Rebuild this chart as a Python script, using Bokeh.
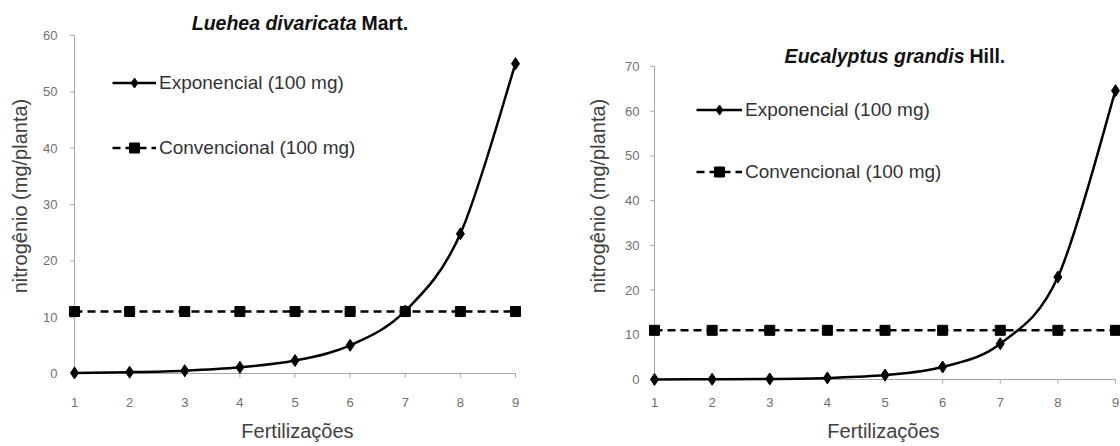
import numpy as np
from bokeh.plotting import figure
from bokeh.models import Label, Legend, LegendItem, FixedTicker, Range1d
from bokeh.layouts import row
from bokeh.embed import file_html
from bokeh.resources import INLINE

# ---------------- data ----------------
fertilizacoes = [1, 2, 3, 4, 5, 6, 7, 8, 9]

luehea_exponencial = [0.1, 0.23, 0.5, 1.1, 2.3, 5.0, 11.1, 24.8, 55.0]
luehea_convencional = [11.0, 11.0, 11.0, 11.0, 11.0, 11.0, 11.0, 11.0, 11.0]
luehea_yticks = [0, 10, 20, 30, 40, 50, 60]

eucalyptus_exponencial = [0.02, 0.05, 0.12, 0.35, 1.0, 2.8, 8.0, 22.9, 64.6]
eucalyptus_convencional = [11.0, 11.0, 11.0, 11.0, 11.0, 11.0, 11.0, 11.0, 11.0]
eucalyptus_yticks = [0, 10, 20, 30, 40, 50, 60, 70]

label_exp = "Exponencial (100 mg)"
label_conv = "Convencional (100 mg)"
x_title = "Fertilizações"
y_title = "nitrogênio (mg/planta)"

FONT = "Liberation Sans"
AXIS_GRAY = "#a6a6a6"
TICK_TEXT = "#6f6f6f"
TITLE_TEXT = "#404040"


def bezier_segments(xs, ys):
    """Excel-like smoothed line: cubic bezier control points from neighbours."""
    n = len(xs)
    out = dict(x0=[], y0=[], x1=[], y1=[], cx0=[], cy0=[], cx1=[], cy1=[])
    for i in range(n - 1):
        a = i - 1 if i > 0 else i
        d = i + 2 if i + 2 < n else i + 1
        out["x0"].append(xs[i]); out["y0"].append(ys[i])
        out["x1"].append(xs[i + 1]); out["y1"].append(ys[i + 1])
        out["cx0"].append(xs[i] + (xs[i + 1] - xs[a]) / 6.0)
        out["cy0"].append(ys[i] + (ys[i + 1] - ys[a]) / 6.0)
        out["cx1"].append(xs[i + 1] - (xs[d] - xs[i]) / 6.0)
        out["cy1"].append(ys[i + 1] - (ys[d] - ys[i]) / 6.0)
    return out


def make_panel(exp_vals, conv_vals, yticks, calib, frame, title_parts, opts):
    # calib: page-pixel positions of x=first, x=last, y=0, y=top
    (px_first, px_last, py_zero, py_top) = calib
    x_first, x_last = fertilizacoes[0], fertilizacoes[-1]
    y_first, y_last = yticks[0], yticks[-1]

    def dx(px):  # page px -> data x
        return x_first + (px - px_first) * (x_last - x_first) / (px_last - px_first)

    def dy(py):  # page px -> data y
        return y_first + (py_zero - py) * (y_last - y_first) / (py_zero - py_top)

    offset = opts["offset"]
    fl, fr, ft, fb = frame  # page px
    p = figure(
        width=560, height=446,
        x_range=Range1d(dx(fl), dx(fr)),
        y_range=Range1d(dy(fb), dy(ft)),
        output_backend="svg", toolbar_location=None,
        min_border_left=fl - offset, min_border_right=offset + 560 - fr,
        min_border_top=ft, min_border_bottom=446 - fb,
        outline_line_color=None, background_fill_color="white",
        border_fill_color="white",
    )
    p.grid.visible = False

    for ax in (p.xaxis[0], p.yaxis[0]):
        ax.axis_line_color = None
        ax.major_tick_line_color = None
        ax.minor_tick_line_color = None
        ax.major_tick_out = 0
        ax.major_tick_in = 0
        ax.minor_tick_out = 0
        ax.minor_tick_in = 0
        ax.major_label_text_font = FONT
        ax.major_label_text_font_size = "13px"
        ax.major_label_text_color = TICK_TEXT
        ax.axis_label_text_font = FONT
        ax.axis_label_text_font_style = "normal"
        ax.axis_label_text_font_size = "20px"
        ax.axis_label_text_color = TITLE_TEXT
    p.xaxis[0].ticker = FixedTicker(ticks=fertilizacoes)
    p.yaxis[0].ticker = FixedTicker(ticks=yticks)
    p.xaxis[0].axis_label = x_title
    p.yaxis[0].axis_label = y_title
    (ystand, ylab_stand, xstand, xlab_stand) = opts["standoffs"]
    p.yaxis[0].major_label_standoff = ystand
    p.yaxis[0].axis_label_standoff = ylab_stand
    p.xaxis[0].major_label_standoff = xstand
    p.xaxis[0].axis_label_standoff = xlab_stand

    # axis lines at the data origin
    p.segment(x0=[x_first], y0=[y_first], x1=[x_first], y1=[y_last],
              line_color=AXIS_GRAY, line_width=1)
    p.segment(x0=[x_first], y0=[y_first], x1=[x_last], y1=[y_first],
              line_color=AXIS_GRAY, line_width=1)
    # small tick marks
    tick_y = dy(py_zero + 4)
    tick_x = dx(px_first - 4)
    p.segment(x0=fertilizacoes, y0=[y_first] * len(fertilizacoes),
              x1=fertilizacoes, y1=[tick_y] * len(fertilizacoes),
              line_color=AXIS_GRAY, line_width=1)
    p.segment(x0=[tick_x] * len(yticks), y0=yticks,
              x1=[x_first] * len(yticks), y1=yticks,
              line_color=AXIS_GRAY, line_width=1)

    # conventional series: dashed line with squares
    r_conv_line = p.line(fertilizacoes, conv_vals, line_color="black",
                         line_width=2.5, line_dash="8 5")
    # exponential series: smoothed curve with diamonds
    seg = bezier_segments(fertilizacoes, exp_vals)
    r_curve = p.bezier(line_color="black", line_width=2.5, **seg)
    r_conv_pts = p.scatter(fertilizacoes, conv_vals, marker="square", size=10,
                           fill_color="black", line_color="black")
    r_exp_pts = p.scatter(fertilizacoes, exp_vals, marker="diamond", size=12,
                          fill_color="black", line_color="black")

    legend = Legend(
        items=[LegendItem(label=label_exp, renderers=[r_curve, r_exp_pts]),
               LegendItem(label=label_conv, renderers=[r_conv_line, r_conv_pts])],
        location=opts["legend_loc"], orientation="vertical",
        glyph_width=opts["glyph_width"], glyph_height=25, label_height=25,
        spacing=opts["spacing"], padding=0, margin=0, label_standoff=3,
        border_line_color=None, background_fill_alpha=0,
        label_text_font=FONT, label_text_font_size="19px",
        label_text_color="#333333",
    )
    p.add_layout(legend)

    # title: italic species + bold authority
    (t_italic, t_plain, end_px, start_px, ty_px) = title_parts
    p.add_layout(Label(x=dx(end_px), y=dy(ty_px), text=t_italic,
                       text_font=FONT, text_font_style="bold italic",
                       text_font_size="19.5px", text_align="right",
                       text_baseline="middle", text_color="#111111"))
    p.add_layout(Label(x=dx(start_px), y=dy(ty_px), text=t_plain,
                       text_font=FONT, text_font_style="bold",
                       text_font_size="19.5px", text_align="left",
                       text_baseline="middle", text_color="#111111"))
    return p


left = make_panel(
    luehea_exponencial, luehea_convencional, luehea_yticks,
    calib=(74, 515, 373, 35), frame=(64, 530, 5, 386),
    title_parts=("Luehea divaricata", "Mart.", 356, 361, 22),
    opts=dict(offset=0, legend_loc=(48, 226), glyph_width=44, spacing=40,
              standoffs=(7, 9, 11, 10)),
)

right = make_panel(
    eucalyptus_exponencial, eucalyptus_convencional, eucalyptus_yticks,
    calib=(654, 1115, 379, 66), frame=(646, 1120, 5, 386),
    title_parts=("Eucalyptus grandis", "Hill.", 964, 969, 55),
    opts=dict(offset=560, legend_loc=(50, 202), glyph_width=46, spacing=37,
              standoffs=(7, 13, 11, 10)),
)

layout = row(left, right)
open("out.html", "w").write(file_html(layout, INLINE))
